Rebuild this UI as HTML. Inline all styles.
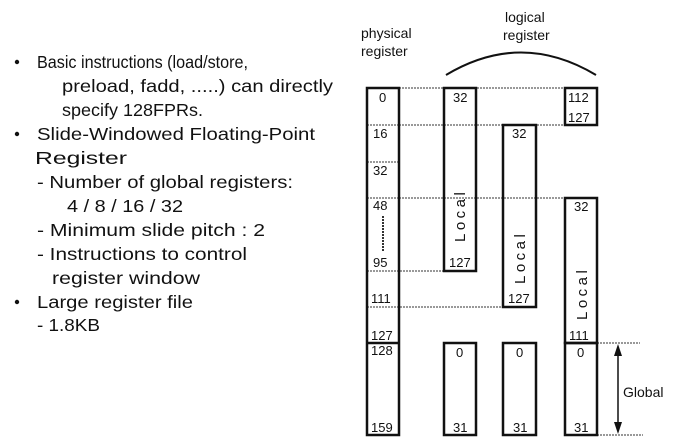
<!DOCTYPE html>
<html><head><meta charset="utf-8"><style>
html,body{margin:0;padding:0;background:#fff;}
svg{display:block;}
text{font-family:"Liberation Sans",Arial,sans-serif;fill:#111;}
</style></head><body>
<svg width="686" height="448" viewBox="0 0 686 448" xmlns="http://www.w3.org/2000/svg">
<g font-size="17.5">
<circle cx="17" cy="62" r="2.2" fill="#111"/>
<text x="37" y="68" textLength="211" lengthAdjust="spacingAndGlyphs">Basic instructions (load/store,</text>
<text x="62" y="92" textLength="271" lengthAdjust="spacingAndGlyphs">preload, fadd, .....) can directly</text>
<text x="62" y="116" textLength="141" lengthAdjust="spacingAndGlyphs">specify 128FPRs.</text>
<circle cx="17" cy="134" r="2.2" fill="#111"/>
<text x="37" y="140" textLength="278" lengthAdjust="spacingAndGlyphs">Slide-Windowed Floating-Point</text>
<text x="35" y="164" textLength="92" lengthAdjust="spacingAndGlyphs">Register</text>
<text x="37" y="188" textLength="256" lengthAdjust="spacingAndGlyphs">- Number of global registers:</text>
<text x="67" y="212" textLength="116" lengthAdjust="spacingAndGlyphs">4 / 8 / 16 / 32</text>
<text x="37" y="236" textLength="228" lengthAdjust="spacingAndGlyphs">- Minimum slide pitch :  2</text>
<text x="37" y="260" textLength="210" lengthAdjust="spacingAndGlyphs">- Instructions to control</text>
<text x="52" y="284" textLength="148" lengthAdjust="spacingAndGlyphs">register window</text>
<circle cx="17" cy="302" r="2.2" fill="#111"/>
<text x="37" y="308" textLength="156" lengthAdjust="spacingAndGlyphs">Large register file</text>
<text x="37" y="331" textLength="63" lengthAdjust="spacingAndGlyphs">- 1.8KB</text>
</g>
<g font-size="14">
<text x="361" y="38">physical</text>
<text x="361" y="56">register</text>
<text x="505" y="22">logical</text>
<text x="503" y="40">register</text>
</g>
<path d="M446 75 Q521 30 596 75" fill="none" stroke="#111" stroke-width="2"/>
<g stroke="#333" stroke-width="1" stroke-dasharray="2,1" fill="none">
<line x1="399" y1="88" x2="565" y2="88"/>
<line x1="399" y1="125" x2="565" y2="125"/>
<line x1="367" y1="162" x2="399" y2="162"/>
<line x1="399" y1="198" x2="565" y2="198"/>
<line x1="367" y1="198" x2="399" y2="198"/>
<line x1="367" y1="125" x2="399" y2="125"/>
<line x1="367" y1="271" x2="444" y2="271"/>
<line x1="367" y1="307" x2="503" y2="307"/>
<line x1="597" y1="343" x2="640" y2="343"/>
<line x1="597" y1="435" x2="643" y2="435"/>
<line x1="383" y1="216" x2="383" y2="252" stroke-width="2"/>
</g>
<g stroke="#111" stroke-width="2.5" fill="none">
<rect x="367" y="88" width="32" height="347"/>
<line x1="367" y1="343" x2="399" y2="343"/>
<rect x="444" y="88" width="32" height="183"/>
<rect x="503" y="125" width="33" height="182"/>
<rect x="565" y="88" width="32" height="37"/>
<rect x="565" y="198" width="32" height="145"/>
<rect x="444" y="343" width="32" height="92"/>
<rect x="503" y="343" width="33" height="92"/>
<rect x="565" y="343" width="32" height="92"/>
</g>
<g font-size="13">
<text x="379" y="102">0</text>
<text x="373" y="138">16</text>
<text x="373" y="175">32</text>
<text x="373" y="210">48</text>
<text x="373" y="267">95</text>
<text x="371" y="303">111</text>
<text x="371" y="340">127</text>
<text x="371" y="355">128</text>
<text x="371" y="432">159</text>
<text x="453" y="102">32</text>
<text x="449" y="267">127</text>
<text x="512" y="138">32</text>
<text x="508" y="303">127</text>
<text x="568" y="102">112</text>
<text x="568" y="122">127</text>
<text x="574" y="211">32</text>
<text x="569" y="340">111</text>
<text x="456" y="357">0</text>
<text x="516" y="357">0</text>
<text x="577" y="357">0</text>
<text x="453" y="432">31</text>
<text x="513" y="432">31</text>
<text x="574" y="432">31</text>
</g>
<g font-size="15" letter-spacing="3.5">
<text transform="translate(465,242) rotate(-90)">Local</text>
<text transform="translate(525,284) rotate(-90)">Local</text>
<text transform="translate(587,320) rotate(-90)">Local</text>
</g>
<line x1="618" y1="352" x2="618" y2="426" stroke="#111" stroke-width="1.5"/>
<polygon points="618,344 614,356 622,356" fill="#111"/>
<polygon points="618,434 614,422 622,422" fill="#111"/>
<text x="623" y="397" font-size="14">Global</text>
</svg>
</body></html>
